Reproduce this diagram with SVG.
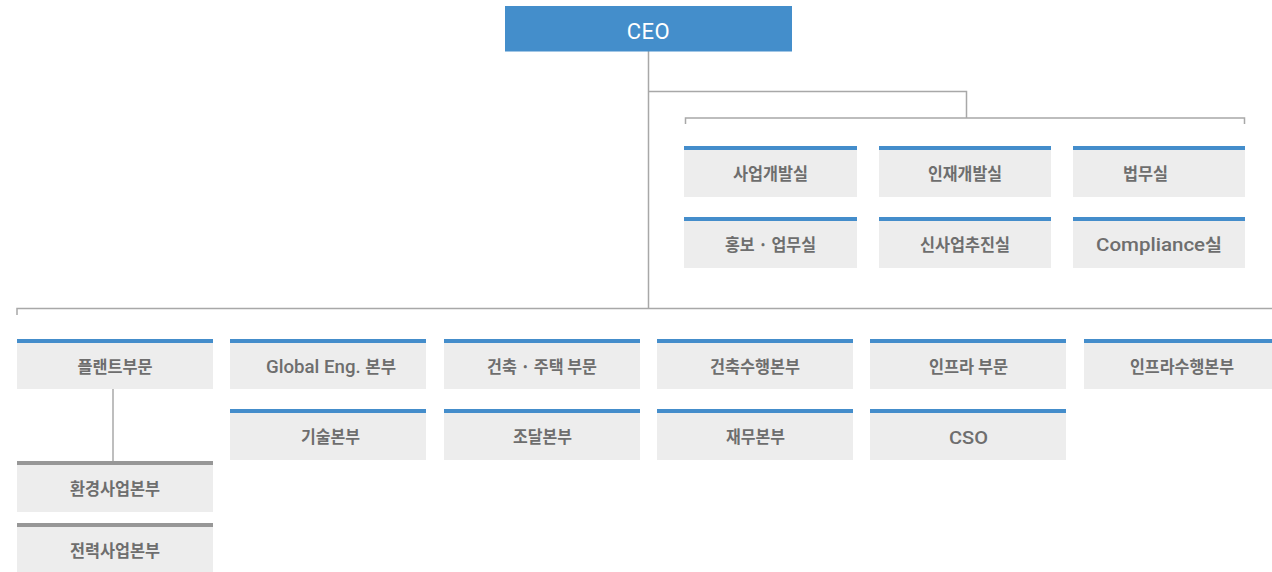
<svg xmlns="http://www.w3.org/2000/svg" width="1272" height="572" viewBox="0 0 1272 572">
  <style>
    .box { fill: #ededed; }
    .bar { fill: #448dcb; }
    .gbar { fill: #979797; }
    .lbl { font-family: "Noto Sans CJK KR", sans-serif; font-size: 17px; font-weight: 700; fill: #6e6e6e; text-anchor: middle; }
    .lat { font-family: Roboto, "Noto Sans CJK KR", sans-serif; font-size: 19px; font-weight: 500; }
    .ceo { font-family: Roboto, "Noto Sans", sans-serif; font-size: 22px; font-weight: 400; fill: #ffffff; text-anchor: middle; letter-spacing: 0.5px; }
    .conn { fill: none; stroke: #a8a8a8; stroke-width: 1.5; }
  </style>

  <g id="connectors">
    <path class="conn" d="M648.5 51 V309"/>
    <path class="conn" d="M648.5 91.5 H966.5 V118"/>
    <path class="conn" d="M685.5 124 V118 H1244.5 V124"/>
    <path class="conn" d="M17 315 V308.5 H1272"/>
    <path class="conn" d="M113 389 V461"/>
  </g>

  <g id="ceo">
    <rect x="505" y="6" width="287" height="45.5" fill="#448ecb"/>
    <text class="ceo" x="648.5" y="39">CEO</text>
  </g>

  <!-- Top staff offices -->
  <g id="n-saeop">
    <rect class="box" x="684" y="146" width="173" height="51"/>
    <rect class="bar" x="684" y="146" width="173" height="4"/>
    <text class="lbl" x="770.5" y="180" textLength="75" lengthAdjust="spacingAndGlyphs">사업개발실</text>
  </g>
  <g id="n-injae">
    <rect class="box" x="879" y="146" width="172" height="51"/>
    <rect class="bar" x="879" y="146" width="172" height="4"/>
    <text class="lbl" x="965" y="180" textLength="74" lengthAdjust="spacingAndGlyphs">인재개발실</text>
  </g>
  <g id="n-beopmu">
    <rect class="box" x="1073" y="146" width="172" height="51"/>
    <rect class="bar" x="1073" y="146" width="172" height="4"/>
    <text class="lbl" x="1145.5" y="180" textLength="45" lengthAdjust="spacingAndGlyphs">법무실</text>
  </g>
  <g id="n-hongbo">
    <rect class="box" x="684" y="217" width="173" height="51"/>
    <rect class="bar" x="684" y="217" width="173" height="4"/>
    <text class="lbl" x="770.5" y="251" textLength="91" lengthAdjust="spacingAndGlyphs">홍보 · 업무실</text>
  </g>
  <g id="n-sinsaeop">
    <rect class="box" x="879" y="217" width="172" height="51"/>
    <rect class="bar" x="879" y="217" width="172" height="4"/>
    <text class="lbl" x="965" y="251" textLength="90" lengthAdjust="spacingAndGlyphs">신사업추진실</text>
  </g>
  <g id="n-compliance">
    <rect class="box" x="1073" y="217" width="172" height="51"/>
    <rect class="bar" x="1073" y="217" width="172" height="4"/>
    <text class="lbl" x="1159" y="251" textLength="126" lengthAdjust="spacingAndGlyphs"><tspan class="lat">Compliance</tspan>실</text>
  </g>

  <!-- Divisions row A -->
  <g id="n-plant">
    <rect class="box" x="17" y="339" width="196" height="50"/>
    <rect class="bar" x="17" y="339" width="196" height="4"/>
    <text class="lbl" x="115" y="372.5" textLength="75" lengthAdjust="spacingAndGlyphs">플랜트부문</text>
  </g>
  <g id="n-global">
    <rect class="box" x="230" y="339" width="196" height="50"/>
    <rect class="bar" x="230" y="339" width="196" height="4"/>
    <text class="lbl" x="331" y="372.5" textLength="130" lengthAdjust="spacingAndGlyphs"><tspan class="lat">Global Eng. </tspan>본부</text>
  </g>
  <g id="n-arch">
    <rect class="box" x="444" y="339" width="196" height="50"/>
    <rect class="bar" x="444" y="339" width="196" height="4"/>
    <text class="lbl" x="542" y="372.5" textLength="110" lengthAdjust="spacingAndGlyphs">건축 · 주택 부문</text>
  </g>
  <g id="n-archexec">
    <rect class="box" x="657" y="339" width="196" height="50"/>
    <rect class="bar" x="657" y="339" width="196" height="4"/>
    <text class="lbl" x="755" y="372.5" textLength="90" lengthAdjust="spacingAndGlyphs">건축수행본부</text>
  </g>
  <g id="n-infra">
    <rect class="box" x="870" y="339" width="196" height="50"/>
    <rect class="bar" x="870" y="339" width="196" height="4"/>
    <text class="lbl" x="968.5" y="372.5" textLength="79" lengthAdjust="spacingAndGlyphs">인프라 부문</text>
  </g>
  <g id="n-infraexec">
    <rect class="box" x="1084" y="339" width="196" height="50"/>
    <rect class="bar" x="1084" y="339" width="196" height="4"/>
    <text class="lbl" x="1182" y="372.5" textLength="104" lengthAdjust="spacingAndGlyphs">인프라수행본부</text>
  </g>

  <!-- Row B -->
  <g id="n-tech">
    <rect class="box" x="230" y="409" width="196" height="51"/>
    <rect class="bar" x="230" y="409" width="196" height="4"/>
    <text class="lbl" x="330.5" y="443" textLength="59" lengthAdjust="spacingAndGlyphs">기술본부</text>
  </g>
  <g id="n-procure">
    <rect class="box" x="444" y="409" width="196" height="51"/>
    <rect class="bar" x="444" y="409" width="196" height="4"/>
    <text class="lbl" x="542.5" y="443" textLength="59" lengthAdjust="spacingAndGlyphs">조달본부</text>
  </g>
  <g id="n-finance">
    <rect class="box" x="657" y="409" width="196" height="51"/>
    <rect class="bar" x="657" y="409" width="196" height="4"/>
    <text class="lbl" x="755.5" y="443" textLength="59" lengthAdjust="spacingAndGlyphs">재무본부</text>
  </g>
  <g id="n-cso">
    <rect class="box" x="870" y="409" width="196" height="51"/>
    <rect class="bar" x="870" y="409" width="196" height="4"/>
    <text class="lbl" x="968.5" y="444" textLength="39" lengthAdjust="spacingAndGlyphs"><tspan class="lat">CSO</tspan></text>
  </g>

  <!-- Plant sub units -->
  <g id="n-env">
    <rect class="box" x="17" y="461" width="196" height="51"/>
    <rect class="gbar" x="17" y="461" width="196" height="4"/>
    <text class="lbl" x="115" y="495" textLength="90" lengthAdjust="spacingAndGlyphs">환경사업본부</text>
  </g>
  <g id="n-power">
    <rect class="box" x="17" y="523" width="196" height="51"/>
    <rect class="gbar" x="17" y="523" width="196" height="4"/>
    <text class="lbl" x="115" y="556.5" textLength="90" lengthAdjust="spacingAndGlyphs">전력사업본부</text>
  </g>
</svg>
